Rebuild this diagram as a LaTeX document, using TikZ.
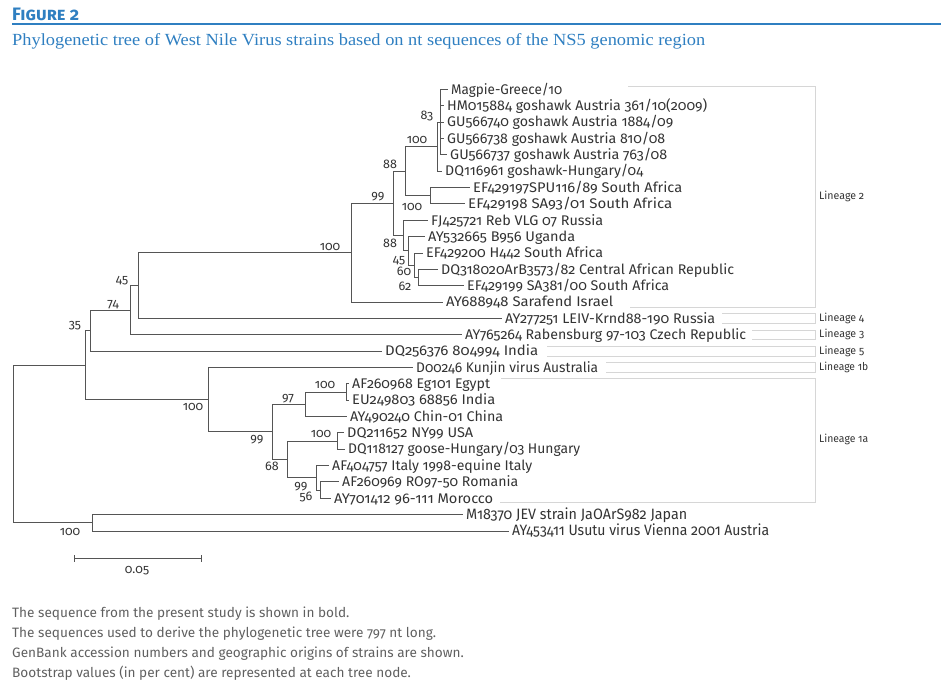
\documentclass[tikz,border=0pt]{standalone}
\usepackage{graphicx}
\usepackage{fontspec}
\setmainfont{Fira Sans}[Numbers=OldStyle]
\newfontfamily\subfont{Liberation Serif}
\definecolor{figblue}{HTML}{2F7FC1}
\definecolor{treegray}{HTML}{555555}
\definecolor{txt}{HTML}{333333}
\definecolor{brk}{HTML}{D6D6D6}
\definecolor{notegray}{HTML}{606060}
\newcommand{\fitw}[2]{\resizebox{#1pt}{\height}{#2}}
\begin{document}
\begin{tikzpicture}[x=1pt,y=-1pt,
  branch/.style={draw=treegray,line width=0.9pt},
  leaf/.style={anchor=west,inner xsep=3pt,inner ysep=0pt,text height=9.5pt,text depth=0pt,font=\fontsize{14}{14}\selectfont,text=txt},
  boot/.style={inner sep=0pt,font=\fontsize{12.5}{12.5}\selectfont,text=txt},
  linlab/.style={anchor=west,inner sep=0pt,font=\fontsize{10.8}{10.8}\selectfont,text=txt},
  bracket/.style={draw=brk,line width=1pt},
  note/.style={anchor=base west,inner sep=0pt,font=\fontsize{13.6}{13.6}\selectfont,text=notegray}]
\useasboundingbox (0,0) rectangle (941,684);
% title
\node[anchor=base west,inner sep=0pt,text=figblue,font=\fontsize{18}{18}\selectfont\bfseries\scshape] (fig) at (12,20.5) {\fitw{67}{Figure 2}};
\coordinate (r1) at (12,24);
\coordinate (r2) at (941,24);
\draw[figblue,line width=1.4pt] (r1) -- (r2);
\node[anchor=base west,inner sep=0pt,text=figblue,font=\fontsize{17}{17}\subfont] (sub) at (12,46) {\fitw{693}{Phylogenetic tree of West Nile Virus strains based on nt sequences of the NS5 genomic region}};
% leaves
\node[leaf] (l1) at (448,89.5) {\fitw{111}{Magpie-Greece/10}};
\node[leaf] (l2) at (444,105.85) {\fitw{260}{HM015884 goshawk Austria 361/10(2009)}};
\node[leaf] (l3) at (444,122.2) {\fitw{226}{GU566740 goshawk Austria 1884/09}};
\node[leaf] (l4) at (444,138.55) {\fitw{218}{GU566738 goshawk Austria 810/08}};
\node[leaf] (l5) at (447,154.9) {\fitw{217}{GU566737 goshawk Austria 763/08}};
\node[leaf] (l6) at (442,171.25) {\fitw{198}{DQ116961 goshawk-Hungary/04}};
\node[leaf] (l7) at (470,187.6) {\fitw{209}{EF429197SPU116/89 South Africa}};
\node[leaf] (l8) at (465,203.95) {\fitw{204}{EF429198 SA93/01 South Africa}};
\node[leaf] (l9) at (428,220.3) {\fitw{172}{FJ425721 Reb VLG 07 Russia}};
\node[leaf] (l10) at (425,236.65) {\fitw{147}{AY532665 B956 Uganda}};
\node[leaf] (l11) at (423,253.0) {\fitw{177}{EF429200 H442 South Africa}};
\node[leaf] (l12) at (438,269.35) {\fitw{293}{DQ318020ArB3573/82 Central African Republic}};
\node[leaf] (l13) at (464,285.7) {\fitw{202}{EF429199 SA381/00 South Africa}};
\node[leaf] (l14) at (443,302.05) {\fitw{167}{AY688948 Sarafend Israel}};
\node[leaf] (l15) at (502,318.4) {\fitw{210}{AY277251 LEIV-Krnd88-190 Russia}};
\node[leaf] (l16) at (462,334.75) {\fitw{281}{AY765264 Rabensburg 97-103 Czech Republic}};
\node[leaf] (l17) at (382,351.1) {\fitw{153}{DQ256376 804994 India}};
\node[leaf] (l18) at (413,367.45) {\fitw{182}{D00246 Kunjin virus Australia}};
\node[leaf] (l19) at (349,383.8) {\fitw{138}{AF260968 Eg101 Egypt}};
\node[leaf] (l20) at (349,400.15) {\fitw{143}{EU249803 68856 India}};
\node[leaf] (l21) at (347,416.5) {\fitw{153}{AY490240 Chin-01 China}};
\node[leaf] (l22) at (344,432.85) {\fitw{126}{DQ211652 NY99 USA}};
\node[leaf] (l23) at (345,449.2) {\fitw{232}{DQ118127 goose-Hungary/03 Hungary}};
\node[leaf] (l24) at (329,465.55) {\fitw{200}{AF404757 Italy 1998-equine Italy}};
\node[leaf] (l25) at (339,481.9) {\fitw{176}{AF260969 RO97-50 Romania}};
\node[leaf] (l26) at (331,498.25) {\fitw{159}{AY701412 96-111 Morocco}};
\node[leaf,font=\fontsize{15}{15}\selectfont] (l27) at (463,514.6) {\fitw{221}{M18370 JEV strain JaOArS982 Japan}};
\node[leaf,font=\fontsize{15}{15}\selectfont] (l28) at (509,530.95) {\fitw{257}{AY453411 Usutu virus Vienna 2001 Austria}};
% internal nodes
\coordinate (nA83) at (440,122.2);
\coordinate (n100a) at (437,146.7);
\coordinate (n100b) at (430,195.8);
\coordinate (n88a) at (405,171.3);
\coordinate (n62) at (418,277.5);
\coordinate (n60) at (414,265.3);
\coordinate (n45b) at (408,250.9);
\coordinate (n88b) at (403,235.6);
\coordinate (n99) at (393,203.4);
\coordinate (nL2) at (351,252.7);
\coordinate (n45) at (138,285.6);
\coordinate (n74) at (130,310.2);
\coordinate (n35) at (90,330.6);
\coordinate (n100EI) at (346,392.0);
\coordinate (n97) at (305,404.2);
\coordinate (n100DQ) at (337,441.0);
\coordinate (n56) at (320,490.1);
\coordinate (n99b) at (316,477.8);
\coordinate (n68) at (287,459.4);
\coordinate (nL1a) at (272,431.8);
\coordinate (nL1) at (208,399.6);
\coordinate (nWNV) at (85,365.1);
\coordinate (nOut) at (92,522.8);
\coordinate (root) at (13,443.9);
% branches
\foreach \c in {l1,l2,l3,l4,l5} \draw[branch] (nA83) |- (\c.west);
\draw[branch] (n100a) |- (nA83); \draw[branch] (n100a) |- (l6.west);
\draw[branch] (n100b) |- (l7.west); \draw[branch] (n100b) |- (l8.west);
\draw[branch] (n88a) |- (n100a); \draw[branch] (n88a) |- (n100b);
\draw[branch] (n62) |- (l12.west); \draw[branch] (n62) |- (l13.west);
\draw[branch] (n60) |- (l11.west); \draw[branch] (n60) |- (n62);
\draw[branch] (n45b) |- (l10.west); \draw[branch] (n45b) |- (n60);
\draw[branch] (n88b) |- (l9.west); \draw[branch] (n88b) |- (n45b);
\draw[branch] (n99) |- (n88a); \draw[branch] (n99) |- (n88b);
\draw[branch] (nL2) |- (n99); \draw[branch] (nL2) |- (l14.west);
\draw[branch] (n45) |- (nL2); \draw[branch] (n45) |- (l15.west);
\draw[branch] (n74) |- (n45); \draw[branch] (n74) |- (l16.west);
\draw[branch] (n35) |- (n74); \draw[branch] (n35) |- (l17.west);
\draw[branch] (n100EI) |- (l19.west); \draw[branch] (n100EI) |- (l20.west);
\draw[branch] (n97) |- (n100EI); \draw[branch] (n97) |- (l21.west);
\draw[branch] (n100DQ) |- (l22.west); \draw[branch] (n100DQ) |- (l23.west);
\draw[branch] (n56) |- (l25.west); \draw[branch] (n56) |- (l26.west);
\draw[branch] (n99b) |- (l24.west); \draw[branch] (n99b) |- (n56);
\draw[branch] (n68) |- (n100DQ); \draw[branch] (n68) |- (n99b);
\draw[branch] (nL1a) |- (n97); \draw[branch] (nL1a) |- (n68);
\draw[branch] (nL1) |- (l18.west); \draw[branch] (nL1) |- (nL1a);
\draw[branch] (nWNV) |- (n35); \draw[branch] (nWNV) |- (nL1);
\draw[branch] (nOut) |- (l27.west); \draw[branch] (nOut) |- (l28.west);
\draw[branch] (root) |- (nWNV); \draw[branch] (root) |- (nOut);
% bootstrap values
\node[boot] (b1) at (427,116) {83};
\node[boot] (b2) at (417,140) {100};
\node[boot] (b3) at (390,164) {88};
\node[boot] (b4) at (378,197) {99};
\node[boot] (b5) at (412,207) {100};
\node[boot] (b6) at (390,243) {88};
\node[boot] (b7) at (399,261) {45};
\node[boot] (b8) at (404,271) {60};
\node[boot] (b9) at (405,286) {62};
\node[boot] (b10) at (330,247) {100};
\node[boot] (b11) at (122,281) {45};
\node[boot] (b12) at (113,305) {74};
\node[boot] (b13) at (75,326) {35};
\node[boot] (b14) at (193,407) {100};
\node[boot] (b15) at (325,385) {100};
\node[boot] (b16) at (288,399) {97};
\node[boot] (b17) at (257,440) {99};
\node[boot] (b18) at (321,434) {100};
\node[boot] (b19) at (272,466) {68};
\node[boot] (b20) at (301,487) {99};
\node[boot] (b21) at (306,497) {56};
\node[boot] (b22) at (70,532) {100};
% lineage brackets
\draw[bracket] (628,87) -- (815,87) -- (815,307) -- (630,307);
\draw[bracket] (722,313.5) -- (815,313.5) -- (815,323) -- (722,323);
\draw[bracket] (752,330) -- (815,330) -- (815,339.5) -- (752,339.5);
\draw[bracket] (547,346.5) -- (815,346.5) -- (815,356) -- (547,356);
\draw[bracket] (606,362.5) -- (815,362.5) -- (815,372) -- (606,372);
\draw[bracket] (501,378.5) -- (815,378.5) -- (815,502) -- (500,502);
\node[linlab] (g2) at (819,196) {\fitw{45}{Lineage 2}};
\node[linlab] (g4) at (819,318) {\fitw{45}{Lineage 4}};
\node[linlab] (g3) at (819,334.5) {\fitw{45}{Lineage 3}};
\node[linlab] (g5) at (819,351) {\fitw{45}{Lineage 5}};
\node[linlab] (g1b) at (819,367.5) {\fitw{49}{Lineage 1b}};
\node[linlab] (g1a) at (819,439) {\fitw{49}{Lineage 1a}};
% scale bar
\coordinate (s1) at (74,558);
\coordinate (s2) at (201,558);
\draw[branch] (s1) -- (s2);
\draw[branch] ([yshift=-3.5pt]s1) -- ([yshift=3.5pt]s1);
\draw[branch] ([yshift=-3.5pt]s2) -- ([yshift=3.5pt]s2);
\node[boot] (sbl) at (137,570.5) {0.05};
% notes
\node[note] (t1) at (12,617) {The sequence from the present study is shown in bold.};
\node[note] (t2) at (12,637) {The sequences used to derive the phylogenetic tree were 797 nt long.};
\node[note] (t3) at (12,657) {GenBank accession numbers and geographic origins of strains are shown.};
\node[note] (t4) at (12,677) {Bootstrap values (in per cent) are represented at each tree node.};
\end{tikzpicture}
\end{document}
